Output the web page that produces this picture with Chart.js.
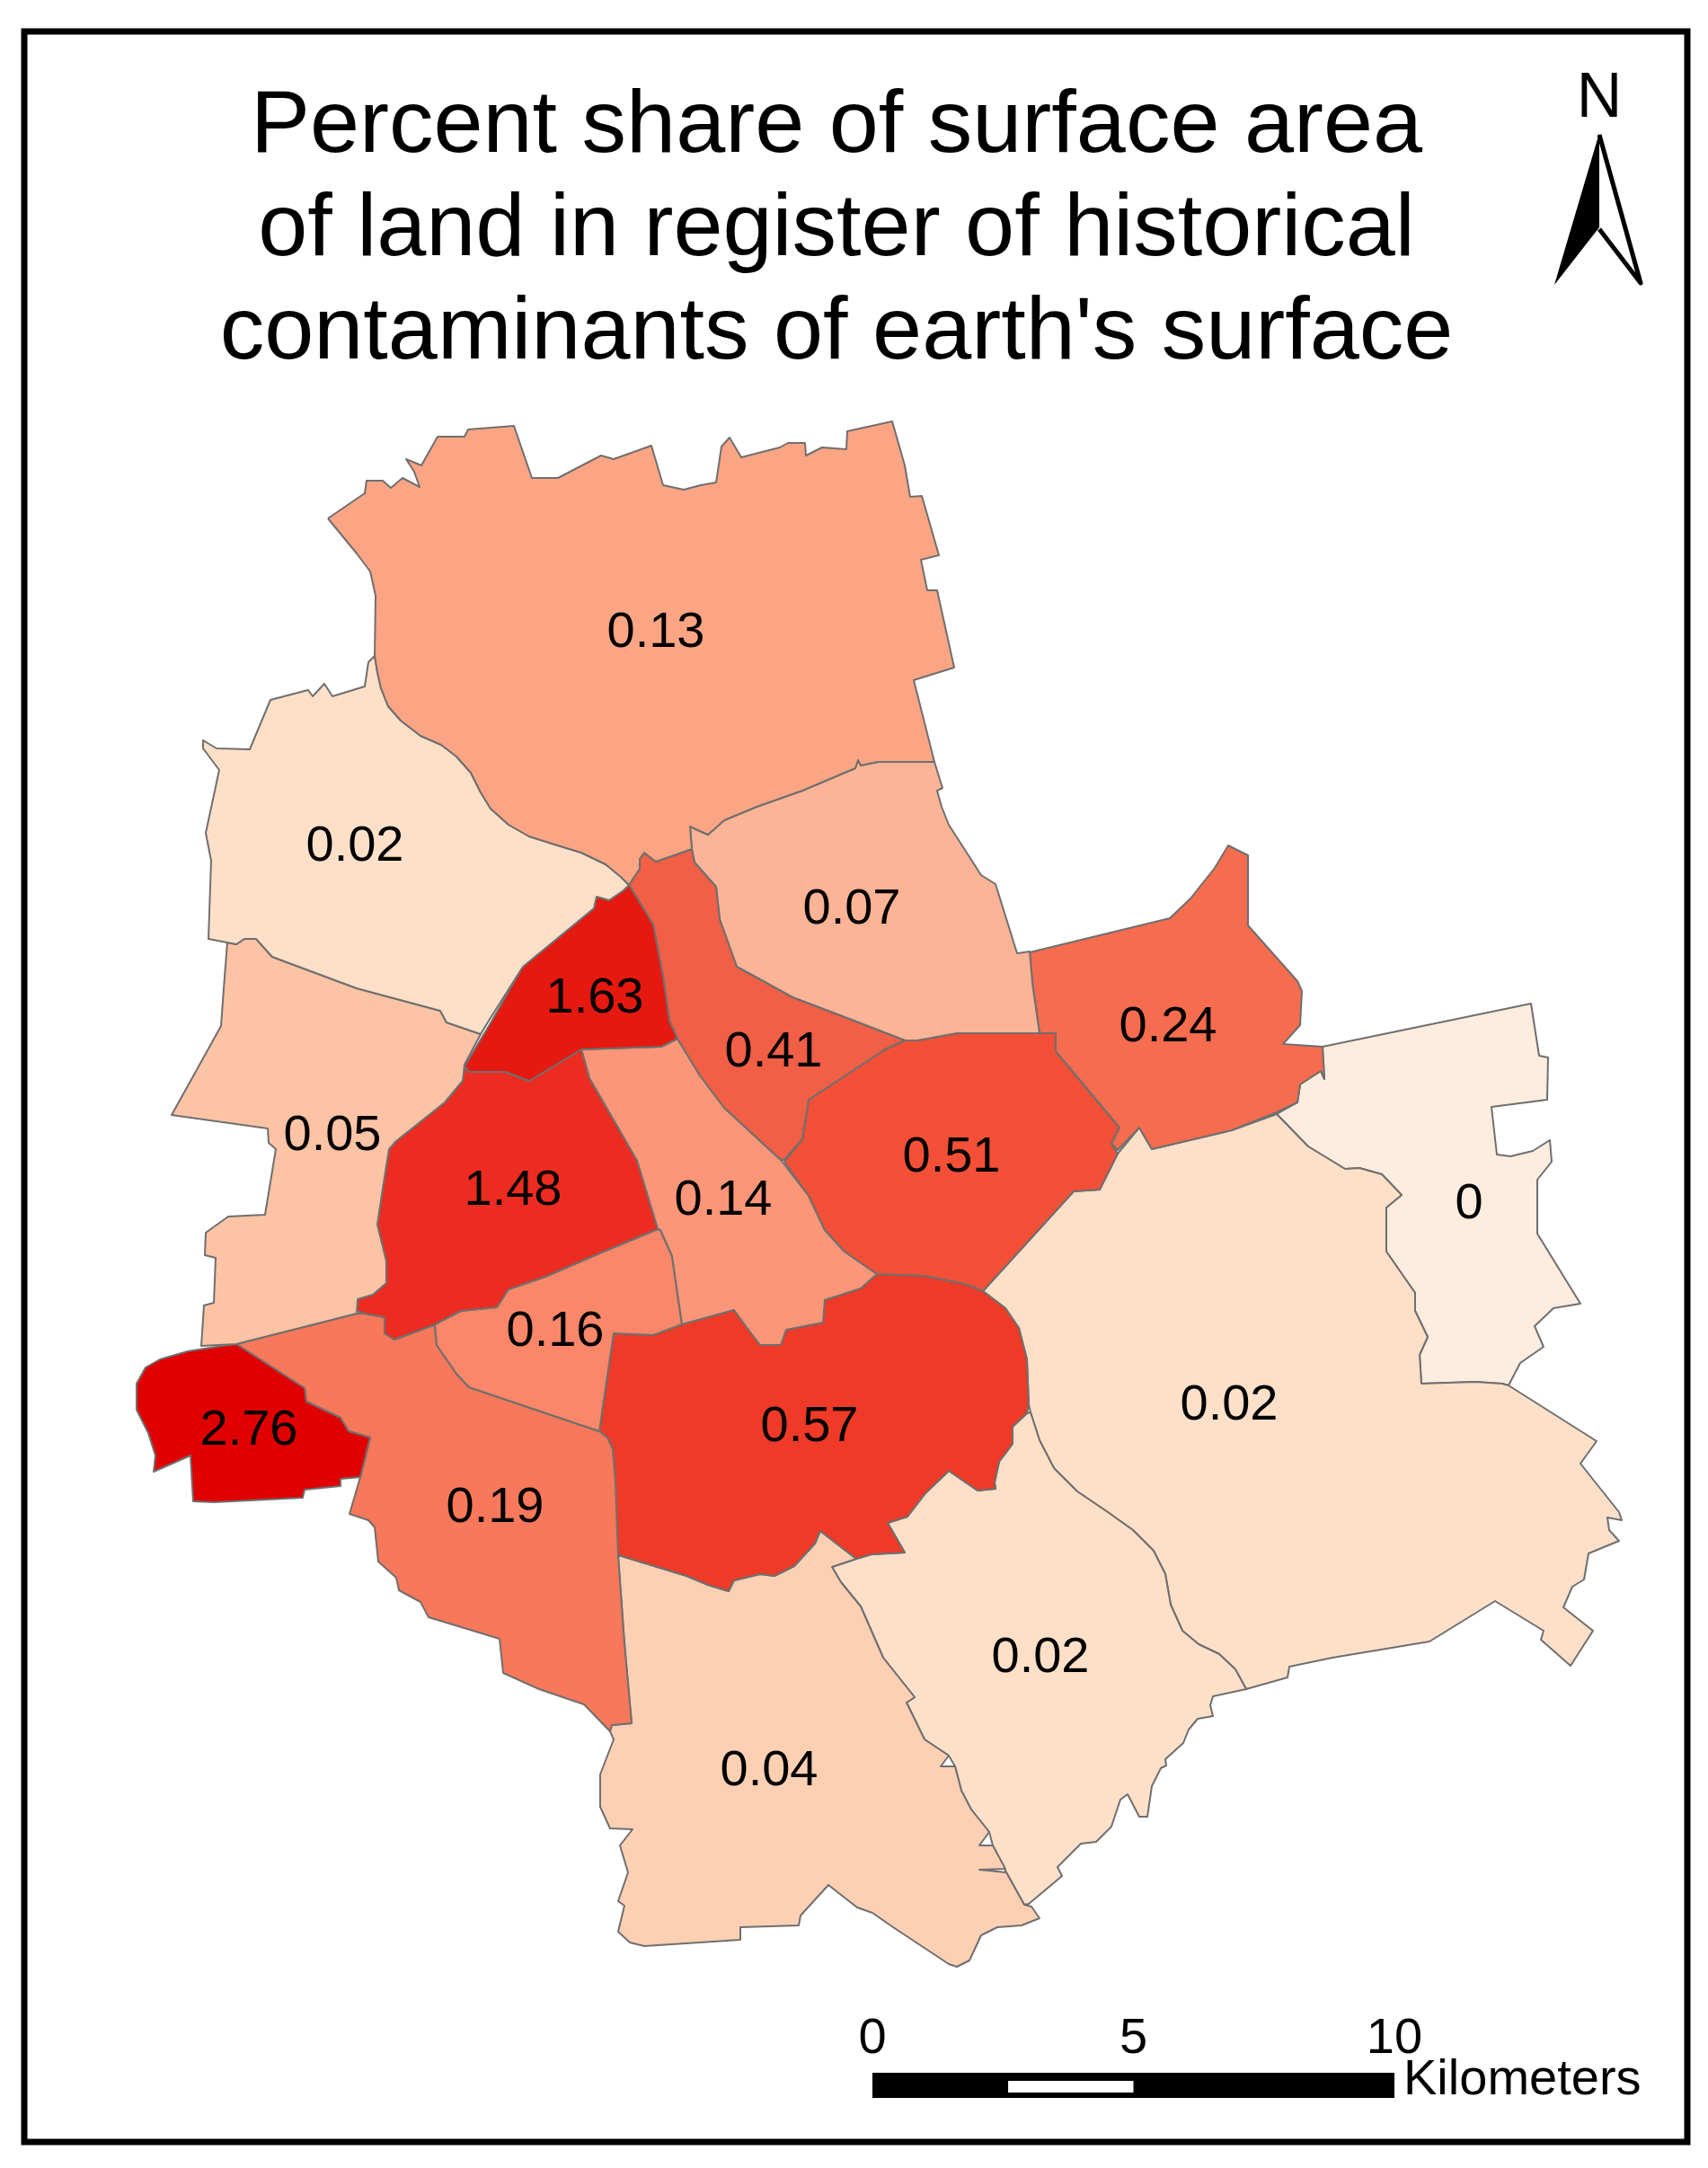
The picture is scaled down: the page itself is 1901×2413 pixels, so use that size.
<!DOCTYPE html>
<html>
<head>
<meta charset="utf-8">
<title>Percent share of surface area</title>
<script src="https://cdn.jsdelivr.net/npm/chart.js@4"></script>
<style>
  html, body { margin: 0; padding: 0; background: #fff; }
  canvas { display: block; }
</style>
</head>
<body>
<canvas id="mapChart" width="1901" height="2413"></canvas>
<script>
// ====================================================
// DISTRICT DATA - map grid units, y grows southwards
// ====================================================
const titleLines = ['Percent share of surface area', 'of land in register of historical', "contaminants of earth's surface"];

const districts = ['Bialoleka', 'Bielany', 'Bemowo', 'Zoliborz', 'Wola', 'Praga Polnoc', 'Targowek', 'Rembertow', 'Praga Poludnie',
  'Srodmiescie', 'Ochota', 'Ursus', 'Wlochy', 'Mokotow', 'Ursynow', 'Wilanow', 'Wawer', 'Wesola'];
const shareValues = ['0.13', '0.02', '0.05', '1.63', '1.48', '0.41', '0.07', '0.24', '0.51', '0.14', '0.16', '2.76', '0.19', '0.57', '0.04', '0.02', '0.02', '0'];
const labelX = [730, 395, 370, 662, 571, 861, 948, 1300, 1059, 805, 618, 277, 551, 901, 856, 1158, 1368, 1635];
const labelY = [720, 958, 1280, 1127, 1341, 1187, 1028, 1159, 1304, 1352, 1498, 1608, 1694, 1604, 1987, 1861, 1580, 1356];
const districtFills = ['#fca584', '#fee0c9', '#fdc3a5', '#e51910', '#ec2c20', '#f05f46', '#fcb496', '#f56c4e', '#f35037',
  '#fb9678', '#fa8769', '#e00000', '#f7785a', '#ee3a26', '#fdd0b4', '#fee0c9', '#fee0c9', '#feedde'];

const bialoleka = [[365,577],[406,549],[408,535],[426,535],[435,543],[448,532],[467,542],[461,525],[452,511],[469,518],[487,486],[517,486],[521,478],[572,474],[592,532],[621,532],[669,507],[683,511],[725,496],[738,540],[761,545],[780,540],[797,537],[803,497],[812,487],[825,509],[868,498],[877,493],[896,493],[897,507],[915,498],[942,500],[943,480],[993,469],[1007,518],[1013,553],[1026,552],[1045,618],[1025,623],[1032,657],[1043,657],[1062,743],[1017,757],[1040,848],[977,848],[958,852],[955,846],[952,855],[893,880],[842,898],[806,913],[788,929],[768,920],[770,945],[730,959],[717,949],[712,956],[712,967],[700,985],[691,976],[674,962],[647,949],[624,942],[589,931],[566,918],[546,900],[535,882],[524,860],[508,842],[491,829],[468,819],[446,802],[432,786],[424,766],[420,748],[417,730],[418,663],[412,636],[397,616]];
const bielany = [[417,730],[420,748],[424,766],[432,786],[446,802],[468,819],[491,829],[508,842],[524,860],[535,882],[546,900],[566,918],[589,931],[624,942],[647,949],[674,962],[691,976],[700,985],[694,991],[678,1002],[664,998],[661,1011],[582,1076],[544,1136],[535,1151],[497,1138],[490,1125],[397,1100],[303,1065],[285,1045],[272,1045],[263,1051],[232,1045],[235,958],[229,927],[244,857],[226,833],[226,824],[241,833],[278,834],[301,779],[343,768],[348,775],[361,761],[370,775],[406,764],[410,737]];
const bemowo = [[253,1049],[263,1051],[272,1045],[285,1045],[303,1065],[397,1100],[490,1125],[497,1138],[535,1151],[517,1185],[515,1203],[495,1227],[441,1270],[433,1279],[426,1323],[420,1363],[430,1404],[430,1428],[415,1441],[398,1446],[397,1462],[263,1496],[224,1498],[227,1453],[238,1450],[240,1400],[228,1397],[229,1372],[254,1354],[295,1352],[307,1279],[299,1272],[298,1256],[191,1241],[246,1142],[249,1100]];
const zoliborz = [[694,991],[700,985],[727,1029],[738,1087],[745,1136],[754,1156],[736,1165],[647,1168],[589,1203],[562,1193],[522,1193],[517,1187],[544,1142],[582,1076],[661,1011],[664,998],[678,1002]];
const wola = [[517,1187],[522,1193],[562,1193],[589,1203],[647,1168],[656,1200],[709,1292],[732,1368],[667,1395],[607,1421],[566,1435],[553,1455],[513,1459],[482,1475],[439,1491],[428,1484],[428,1466],[406,1462],[397,1459],[398,1446],[415,1441],[430,1428],[430,1404],[420,1363],[426,1323],[433,1279],[441,1270],[495,1227],[515,1203]];
const pragaPolnoc = [[700,985],[712,967],[712,956],[717,949],[730,959],[770,945],[773,960],[797,987],[801,1023],[820,1076],[842,1088],[882,1110],[945,1134],[1007,1158],[985,1168],[900,1224],[893,1268],[873,1291],[869,1291],[806,1233],[779,1197],[754,1156],[745,1136],[738,1087],[727,1029]];
const targowek = [[768,920],[788,929],[806,913],[842,898],[893,880],[952,855],[955,846],[958,852],[977,848],[1040,848],[1049,877],[1043,880],[1048,898],[1056,918],[1092,974],[1108,984],[1132,1061],[1146,1059],[1149,1094],[1157,1150],[1065,1150],[1021,1158],[1007,1158],[945,1134],[882,1110],[842,1088],[820,1076],[801,1023],[797,987],[773,960],[770,945]];
const rembertow = [[1146,1060],[1302,1022],[1325,1000],[1352,966],[1367,941],[1389,952],[1389,1030],[1444,1092],[1449,1103],[1447,1141],[1428,1162],[1472,1165],[1474,1201],[1470,1192],[1447,1207],[1444,1227],[1421,1238],[1371,1258],[1282,1279],[1268,1255],[1244,1280],[1237,1273],[1246,1255],[1175,1170],[1175,1150],[1157,1150],[1149,1094]];
const pragaPoludnie = [[985,1168],[1007,1158],[1021,1158],[1065,1150],[1157,1150],[1175,1150],[1175,1170],[1246,1255],[1237,1273],[1244,1284],[1224,1324],[1195,1326],[1094,1437],[1074,1429],[1029,1420],[976,1418],[940,1393],[918,1369],[900,1331],[873,1293],[893,1268],[900,1224]];
const srodmiescie = [[754,1156],[779,1197],[806,1233],[869,1291],[900,1331],[918,1369],[940,1393],[976,1418],[958,1434],[918,1447],[916,1472],[875,1480],[869,1497],[846,1497],[833,1480],[817,1458],[759,1474],[748,1398],[735,1369],[732,1368],[709,1292],[656,1200],[647,1168],[736,1165]];
const ochota = [[732,1368],[735,1369],[748,1398],[759,1474],[727,1486],[683,1484],[667,1593],[522,1544],[508,1529],[486,1497],[484,1475],[482,1475],[513,1459],[553,1455],[566,1435],[607,1421],[667,1395]];
const ursus = [[263,1496],[247,1498],[209,1504],[178,1513],[162,1522],[152,1540],[152,1569],[165,1595],[173,1620],[171,1638],[212,1620],[215,1671],[238,1672],[337,1667],[339,1658],[379,1654],[379,1646],[401,1644],[412,1600],[388,1593],[379,1578],[341,1560],[339,1545]];
const wlochy = [[263,1496],[397,1462],[406,1462],[428,1466],[428,1484],[439,1491],[482,1475],[484,1475],[486,1497],[508,1529],[522,1544],[667,1593],[676,1600],[682,1613],[685,1650],[688,1732],[695,1829],[703,1918],[681,1920],[679,1927],[650,1897],[600,1880],[560,1862],[556,1824],[477,1800],[468,1783],[444,1770],[441,1756],[421,1738],[417,1700],[410,1692],[389,1685],[401,1644],[412,1600],[388,1593],[379,1578],[341,1560],[339,1545]];
const mokotow = [[976,1418],[1029,1420],[1074,1429],[1094,1437],[1119,1456],[1134,1478],[1143,1513],[1145,1563],[1143,1573],[1127,1588],[1127,1607],[1112,1627],[1107,1650],[1108,1657],[1088,1659],[1056,1637],[1030,1662],[1010,1688],[988,1695],[1007,1728],[970,1730],[953,1735],[913,1704],[907,1718],[884,1743],[862,1754],[846,1752],[817,1759],[811,1771],[788,1764],[764,1754],[692,1732],[686,1730],[685,1650],[682,1613],[676,1600],[667,1593],[683,1484],[727,1486],[759,1474],[817,1458],[833,1480],[846,1497],[869,1497],[875,1480],[916,1472],[918,1447],[958,1434]];
const ursynow = [[688,1732],[692,1732],[764,1754],[788,1764],[811,1771],[817,1759],[846,1752],[862,1754],[884,1743],[907,1718],[913,1704],[953,1735],[926,1744],[936,1761],[958,1788],[983,1845],[1018,1889],[1009,1895],[1029,1936],[1056,1954],[1047,1966],[1063,1966],[1070,1993],[1081,2014],[1101,2039],[1090,2054],[1105,2054],[1119,2080],[1090,2081],[1120,2084],[1140,2120],[1148,2122],[1157,2135],[1137,2143],[1110,2145],[1092,2154],[1079,2182],[1065,2189],[1056,2186],[994,2145],[971,2129],[954,2123],[922,2098],[891,2132],[889,2143],[824,2145],[824,2159],[717,2166],[701,2162],[688,2150],[695,2121],[688,2116],[699,2084],[690,2054],[704,2036],[679,2035],[668,2011],[668,1975],[683,1936],[679,1927],[681,1920],[703,1918],[695,1829]];
const wilanow = [[926,1744],[953,1735],[970,1730],[1007,1728],[988,1695],[1010,1688],[1030,1662],[1056,1637],[1088,1659],[1108,1657],[1107,1650],[1112,1627],[1127,1607],[1127,1588],[1143,1573],[1147,1572],[1157,1603],[1173,1634],[1199,1660],[1233,1683],[1261,1703],[1284,1726],[1297,1752],[1303,1786],[1316,1815],[1334,1830],[1357,1841],[1375,1858],[1387,1880],[1350,1888],[1347,1898],[1350,1910],[1333,1913],[1323,1925],[1317,1940],[1297,1958],[1298,1965],[1292,1968],[1282,1988],[1277,2022],[1268,2022],[1255,1997],[1247,2003],[1237,2033],[1220,2050],[1203,2052],[1177,2078],[1182,2088],[1145,2119],[1140,2120],[1120,2084],[1105,2054],[1101,2039],[1081,2014],[1070,1993],[1063,1966],[1056,1954],[1029,1936],[1009,1895],[1018,1889],[983,1845],[958,1788],[936,1761]];
const wawer = [[1094,1437],[1195,1326],[1224,1324],[1244,1284],[1268,1255],[1282,1279],[1371,1258],[1421,1240],[1456,1276],[1497,1301],[1513,1300],[1538,1307],[1560,1330],[1543,1344],[1543,1393],[1575,1439],[1575,1459],[1589,1488],[1580,1508],[1582,1540],[1642,1538],[1672,1540],[1679,1542],[1777,1604],[1759,1629],[1802,1683],[1805,1692],[1789,1689],[1791,1703],[1802,1715],[1768,1729],[1763,1758],[1750,1766],[1740,1789],[1773,1815],[1748,1854],[1715,1825],[1718,1815],[1664,1782],[1591,1827],[1483,1845],[1435,1855],[1433,1867],[1387,1880],[1375,1858],[1357,1841],[1334,1830],[1316,1815],[1303,1786],[1297,1752],[1284,1726],[1261,1703],[1233,1683],[1199,1660],[1173,1634],[1157,1603],[1147,1572],[1145,1563],[1143,1513],[1134,1478],[1119,1456]];
const wesola = [[1472,1165],[1704,1117],[1713,1175],[1723,1177],[1722,1224],[1660,1232],[1666,1285],[1681,1287],[1706,1281],[1725,1269],[1727,1293],[1711,1313],[1711,1373],[1759,1451],[1729,1456],[1708,1476],[1718,1499],[1692,1517],[1679,1542],[1672,1540],[1642,1538],[1582,1540],[1580,1508],[1589,1488],[1575,1459],[1575,1439],[1543,1393],[1543,1344],[1560,1330],[1538,1307],[1513,1300],[1497,1301],[1456,1276],[1421,1240],[1444,1227],[1447,1207],[1470,1192],[1474,1201]];

const districtRings = [bialoleka, bielany, bemowo, zoliborz, wola, pragaPolnoc, targowek, rembertow, pragaPoludnie,
  srodmiescie, ochota, ursus, wlochy, mokotow, ursynow, wilanow, wawer, wesola];

// scale bar and north arrow
const scaleKm = [0, 5, 10];
const scaleUnit = 'Kilometers';
const northLabel = 'N';

const frameBox = [27, 35, 1878, 2384];
const scaleBarOrigin = 971;
const gridPerKm = 58.1;

const datasets = districts.map((name, i) => ({
    label: name,
    data: districtRings[i].concat([districtRings[i][0]]).map(p => ({ x: p[0], y: p[1] })),
    showLine: true,
    fill: 'shape',
    backgroundColor: districtFills[i],
    borderColor: '#6f6f6f',
    borderWidth: 2,
    borderJoinStyle: 'round',
    pointRadius: 0,
    tension: 0
}));

// frame, north arrow, scale bar and value labels
const mapFurniture = {
    id: 'mapFurniture',
    afterDraw(chart) {
        const { ctx, scales: { x, y } } = chart;
        const px = v => x.getPixelForValue(v);
        const py = v => y.getPixelForValue(v);

        ctx.save();
        ctx.fillStyle = '#000';
        ctx.textAlign = 'center';
        ctx.textBaseline = 'alphabetic';
        ctx.font = '56px "Liberation Sans"';
        shareValues.forEach((v, i) => ctx.fillText(v, px(labelX[i]), py(labelY[i])));

        // neat line
        ctx.strokeStyle = '#000';
        ctx.lineWidth = 7;
        ctx.strokeRect(px(frameBox[0]), py(frameBox[1]), px(frameBox[2]) - px(frameBox[0]), py(frameBox[3]) - py(frameBox[1]));

        // north arrow
        ctx.font = '70px "Liberation Sans"';
        ctx.fillText(northLabel, px(1780), py(130));
        ctx.beginPath();
        ctx.moveTo(px(1780), py(148));
        ctx.lineTo(px(1730), py(317));
        ctx.lineTo(px(1780), py(253));
        ctx.closePath();
        ctx.fill();
        ctx.lineWidth = 5;
        ctx.lineJoin = 'round';
        ctx.beginPath();
        ctx.moveTo(px(1780), py(150));
        ctx.lineTo(px(1826), py(315));
        ctx.lineTo(px(1780), py(255));
        ctx.stroke();

        // scale bar
        const kmX = km => px(scaleBarOrigin + km * gridPerKm);
        ctx.fillRect(kmX(0), py(2307), kmX(10) - kmX(0), py(2335) - py(2307));
        ctx.fillStyle = '#fff';
        ctx.fillRect(kmX(2.6), py(2316), kmX(5) - kmX(2.6), py(2329) - py(2316));
        ctx.fillStyle = '#000';
        ctx.font = '56px "Liberation Sans"';
        scaleKm.forEach(km => ctx.fillText(String(km), kmX(km), py(2285)));
        ctx.textAlign = 'left';
        ctx.fillText(scaleUnit, px(1562), py(2331));
        ctx.restore();
    }
};

new Chart(document.getElementById('mapChart').getContext('2d'), {
    type: 'scatter',
    data: { datasets },
    options: {
        responsive: false,
        devicePixelRatio: 1,
        animation: false,
        layout: { padding: { right: 39 } },
        scales: {
            x: { type: 'linear', display: false, min: 0, max: 1862 },
            y: { type: 'linear', display: false, min: 441, max: 2413, reverse: true }
        },
        plugins: {
            legend: { display: false },
            tooltip: { enabled: false },
            title: {
                display: true,
                text: titleLines,
                color: '#000',
                font: { family: '"Liberation Sans"', size: 99, weight: 'normal', lineHeight: 115 / 99 },
                padding: { top: 84, bottom: 12 }
            }
        }
    },
    plugins: [mapFurniture]
});
</script>
</body>
</html>
